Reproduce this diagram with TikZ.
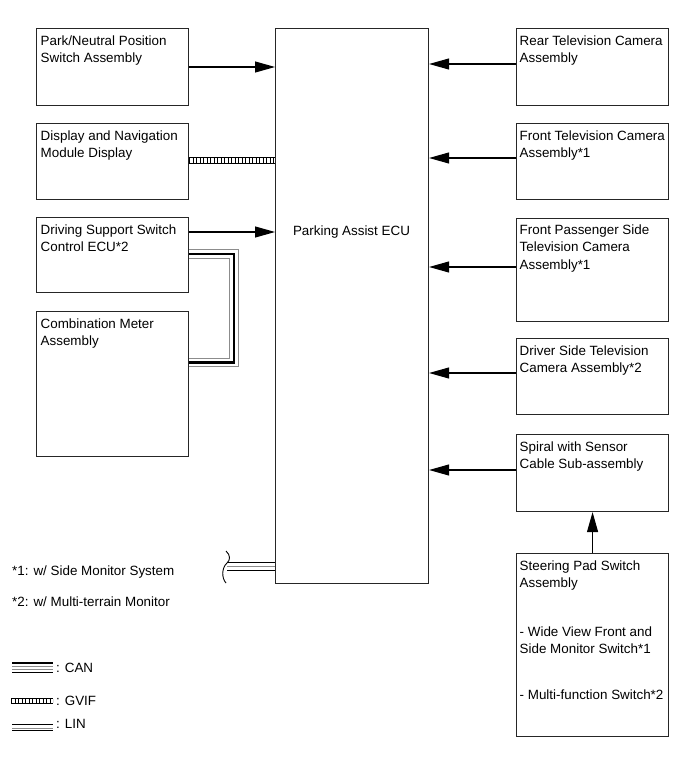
\documentclass[tikz,border=0pt]{standalone}
\usepackage{fontspec}
\setmainfont{Liberation Sans}
\usetikzlibrary{arrows.meta}
\begin{document}
\begin{tikzpicture}[x=1pt,y=-1pt,
  box/.style={draw=black!85, line width=1.1pt, anchor=north west, inner sep=0pt},
  txt/.style={anchor=north west, inner sep=0pt, align=left, font=\fontsize{13.4pt}{17.5pt}\selectfont},
  arr/.style={line width=1.1pt, -{Triangle[length=20pt,width=11pt]}},
  gvif/.style={line width=#1, dash pattern=on 1.3pt off 2.2pt},
  blk/.style={line width=#1, black},
  gry/.style={line width=#1, black!45}]
\useasboundingbox (0,0) rectangle (691,757);
% left boxes
\node[box, minimum width=152pt, minimum height=77pt] (park) at (36,28) {};
\node[txt] (parkt) at (40.5,33) {\strut Park/Neutral Position\\Switch Assembly};
\node[box, minimum width=152pt, minimum height=76pt] (disp) at (36,123) {};
\node[txt] (dispt) at (40.5,128) {\strut Display and Navigation\\Module Display};
\node[box, minimum width=152pt, minimum height=75pt] (drv) at (36,217) {};
\node[txt] (drvt) at (40.5,222) {\strut Driving Support Switch\\Control ECU*2};
\node[box, minimum width=152pt, minimum height=145pt] (comb) at (36,311) {};
\node[txt] (combt) at (40.5,316) {\strut Combination Meter\\Assembly};
% ECU
\node[box, minimum width=153pt, minimum height=555pt] (ecu) at (275,28) {};
\node[txt, anchor=center] (ecut) at (351.5,232) {Parking Assist ECU};
% right boxes
\node[box, minimum width=152pt, minimum height=77pt] (rear) at (516,28) {};
\node[txt] (reart) at (519.5,33) {\strut Rear Television Camera\\Assembly};
\node[box, minimum width=152pt, minimum height=76pt] (front) at (516,123) {};
\node[txt] (frontt) at (519.5,128) {\strut Front Television Camera\\Assembly*1};
\node[box, minimum width=152pt, minimum height=103pt] (pass) at (516,218) {};
\node[txt] (passt) at (519.5,222) {\strut Front Passenger Side\\Television Camera\\Assembly*1};
\node[box, minimum width=152pt, minimum height=76pt] (driver) at (516,338) {};
\node[txt] (drivert) at (519.5,343) {\strut Driver Side Television\\Camera Assembly*2};
\node[box, minimum width=152pt, minimum height=77pt] (spiral) at (516,434) {};
\node[txt] (spiralt) at (519.5,439) {\strut Spiral with Sensor\\Cable Sub-assembly};
\node[box, minimum width=152pt, minimum height=183pt] (steer) at (516,553) {};
\node[txt] (steert) at (519.5,558) {\strut Steering Pad Switch\\Assembly\\[31pt]- Wide View Front and\\Side Monitor Switch*1\\[28pt]- Multi-function Switch*2};
% arrows
\draw[arr] (park.east |- 0,67) -- (ecu.west |- 0,67);
\draw[arr] (drv.east |- 0,232) -- (ecu.west |- 0,232);
\draw[arr] (rear.west |- 0,64) -- (ecu.east |- 0,64);
\draw[arr] (front.west |- 0,158) -- (ecu.east |- 0,158);
\draw[arr] (pass.west |- 0,267) -- (ecu.east |- 0,267);
\draw[arr] (driver.west |- 0,373) -- (ecu.east |- 0,373);
\draw[arr] (spiral.west |- 0,470) -- (ecu.east |- 0,470);
\draw[arr] (steer.north) -- (spiral.south);
% GVIF
\draw[gvif=6pt] (disp.east |- 0,160.5) -- (ecu.west |- 0,160.5);
\draw[blk=1pt] (disp.east |- 0,157.5) -- (ecu.west |- 0,157.5);
\draw[blk=1pt] (disp.east |- 0,163.5) -- (ecu.west |- 0,163.5);
% bracket drv - comb
\draw[gry=0.9pt] (drv.east |- 0,249.3) -- (238.3,249.3) -- (238.3,366.7) -- (comb.east |- 0,366.7);
\draw[blk=2.6pt] (drv.east |- 0,254) -- (234,254) -- (234,362.7) -- (comb.east |- 0,362.7);
\draw[gry=0.9pt] (drv.east |- 0,258.3) -- (229.3,258.3) -- (229.3,358.3) -- (comb.east |- 0,358.3);
% bottom-left cut connector
\coordinate (cut) at (227,562);
\draw[blk=1pt] (cut |- 0,562) -- (ecu.west |- 0,562);
\draw[gry=0.8pt] (cut |- 0,566) -- (ecu.west |- 0,566);
\draw[blk=1.8pt] (cut |- 0,570.5) -- (ecu.west |- 0,570.5);
\draw[line width=0.9pt] (226,551) .. controls (230.5,555) and (230.5,560) .. (227,563) .. controls (221.5,568) and (221.5,578) .. (226,583);
% notes
\node[txt, anchor=west] (n1) at (12,572) {*1: w/ Side Monitor System};
\node[txt, anchor=west] (n2) at (12,602) {*2: w/ Multi-terrain Monitor};
% legend
\draw[blk=1.8pt] (12,663) -- (53,663);
\draw[gry=0.8pt] (12,666.3) -- (53,666.3);
\draw[gry=0.8pt] (12,669.3) -- (53,669.3);
\draw[blk=1.8pt] (12,672.5) -- (53,672.5);
\node[txt, anchor=west] (lcan) at (56,668) {: CAN};
\draw[gvif=4.5pt] (11,701) -- (53,701);
\draw[blk=0.9pt] (11,698.5) -- (53,698.5);
\draw[blk=0.9pt] (11,703.5) -- (53,703.5);
\node[txt, anchor=west] (lgvif) at (56,701) {: GVIF};
\draw[blk=1.8pt] (12,724.5) -- (53,724.5);
\draw[gry=0.8pt] (12,728) -- (53,728);
\draw[blk=1pt] (12,730.5) -- (53,730.5);
\node[txt, anchor=west] (llin) at (56,724) {: LIN};
\end{tikzpicture}
\end{document}
